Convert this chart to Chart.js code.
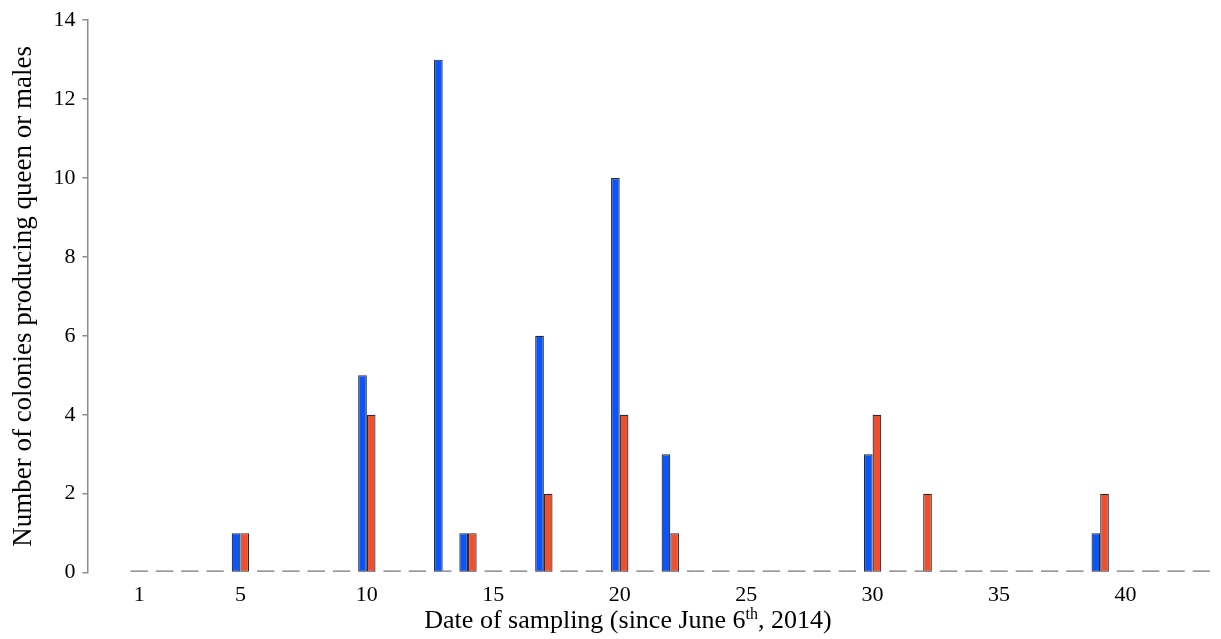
<!DOCTYPE html>
<html>
<head>
<meta charset="utf-8">
<script src="https://cdn.jsdelivr.net/npm/chart.js@4/dist/chart.umd.min.js"></script>
<style>
  html, body { margin: 0; padding: 0; background: #fff; }
  #wrap { width: 1221px; height: 639px; }
</style>
</head>
<body>
<div id="wrap"><canvas id="c" width="1221" height="639"></canvas></div>
<script>
// Sampling dates (days since June 6th, 2014)
const days = [1, 2, 3, 4, 5, 6, 7, 8, 9, 10,
              11, 12, 13, 14, 15, 16, 17, 18, 19, 20,
              21, 22, 23, 24, 25, 26, 27, 28, 29, 30,
              31, 32, 33, 34, 35, 36, 37, 38, 39, 40,
              41, 42, 43];

// Colonies producing queens (blue) and males (red) on each date
const queenColonies = [0, 0, 0, 0, 1, 0, 0, 0, 0, 5,
                       0, 0, 13, 1, 0, 0, 6, 0, 0, 10,
                       0, 3, 0, 0, 0, 0, 0, 0, 0, 3,
                       0, 0, 0, 0, 0, 0, 0, 0, 1, 0,
                       0, 0, 0];
const maleColonies  = [0, 0, 0, 0, 1, 0, 0, 0, 0, 4,
                       0, 0, 0, 1, 0, 0, 2, 0, 0, 4,
                       0, 1, 0, 0, 0, 0, 0, 0, 0, 4,
                       0, 2, 0, 0, 0, 0, 0, 0, 2, 0,
                       0, 0, 0];

// Axis tick labels
const xTickValues = [1, 5, 10, 15, 20, 25, 30, 35, 40];
const yTickValues = [0, 2, 4, 6, 8, 10, 12, 14];

const FONT = "'Liberation Serif', 'Times New Roman', serif";
const BLUE = '#0a55fb';
const RED = '#ee4f2f';
const ZERO = '#767676';

function series(values) {
  return days.map((d, i) => ({ x: d, y: values[i] }));
}

function barStyle(color) {
  return {
    backgroundColor: ctx => (ctx.parsed && ctx.parsed.y === 0) ? ZERO : color,
    borderColor: ctx => (ctx.parsed && ctx.parsed.y === 0) ? ZERO : '#2a2a2a',
    borderWidth: ctx => (ctx.parsed && ctx.parsed.y === 0) ? 0 : 1.2,
    borderSkipped: false,
    minBarLength: 2,
    barPercentage: 1.0,
    categoryPercentage: 0.686
  };
}

// x-axis title with a superscript ordinal
const xTitlePlugin = {
  id: 'xTitle',
  afterDraw(chart) {
    const ctx = chart.ctx;
    const parts = [
      { t: 'Date of sampling (since June 6', size: 26, dy: 0 },
      { t: 'th', size: 16, dy: -9 },
      { t: ', 2014)', size: 26, dy: 0 }
    ];
    ctx.save();
    ctx.fillStyle = '#000';
    ctx.textBaseline = 'alphabetic';
    let total = 0;
    parts.forEach(p => { ctx.font = p.size + 'px ' + FONT; p.w = ctx.measureText(p.t).width; total += p.w; });
    let x = 628 - total / 2;
    const baseY = 628;
    parts.forEach(p => {
      ctx.font = p.size + 'px ' + FONT;
      ctx.fillText(p.t, x, baseY + p.dy);
      x += p.w;
    });
    ctx.restore();
  }
};

new Chart(document.getElementById('c'), {
  type: 'bar',
  data: {
    datasets: [
      Object.assign({ label: 'Queens', data: series(queenColonies) }, barStyle(BLUE)),
      Object.assign({ label: 'Males', data: series(maleColonies) }, barStyle(RED))
    ]
  },
  options: {
    responsive: false,
    animation: false,
    devicePixelRatio: 1,
    layout: { padding: { left: 8, right: 7, top: 9, bottom: 22 } },
    plugins: {
      legend: { display: false },
      tooltip: { enabled: false },
      title: { display: false }
    },
    scales: {
      x: {
        type: 'linear',
        min: -1.05,
        max: 43.5,
        offset: false,
        grid: { display: false, drawTicks: false },
        border: { display: false },
        ticks: {
          color: '#000',
          font: { family: FONT, size: 22 },
          padding: 9,
          autoSkip: false,
          maxRotation: 0
        },
        afterBuildTicks: scale => { scale.ticks = xTickValues.map(v => ({ value: v })); }
      },
      y: {
        min: 0,
        max: 14,
        grid: { drawOnChartArea: false, drawTicks: true, tickLength: 5, color: '#8c8c8c', lineWidth: 1.5 },
        border: { display: true, color: '#8c8c8c', width: 1.5 },
        ticks: {
          color: '#000',
          font: { family: FONT, size: 22 },
          padding: 7
        },
        afterBuildTicks: scale => { scale.ticks = yTickValues.map(v => ({ value: v })); },
        title: {
          display: true,
          text: 'Number of colonies producing queen or males',
          color: '#000',
          font: { family: FONT, size: 27 },
          padding: { top: 0, bottom: 6 }
        }
      }
    }
  },
  plugins: [xTitlePlugin]
});
</script>
</body>
</html>
